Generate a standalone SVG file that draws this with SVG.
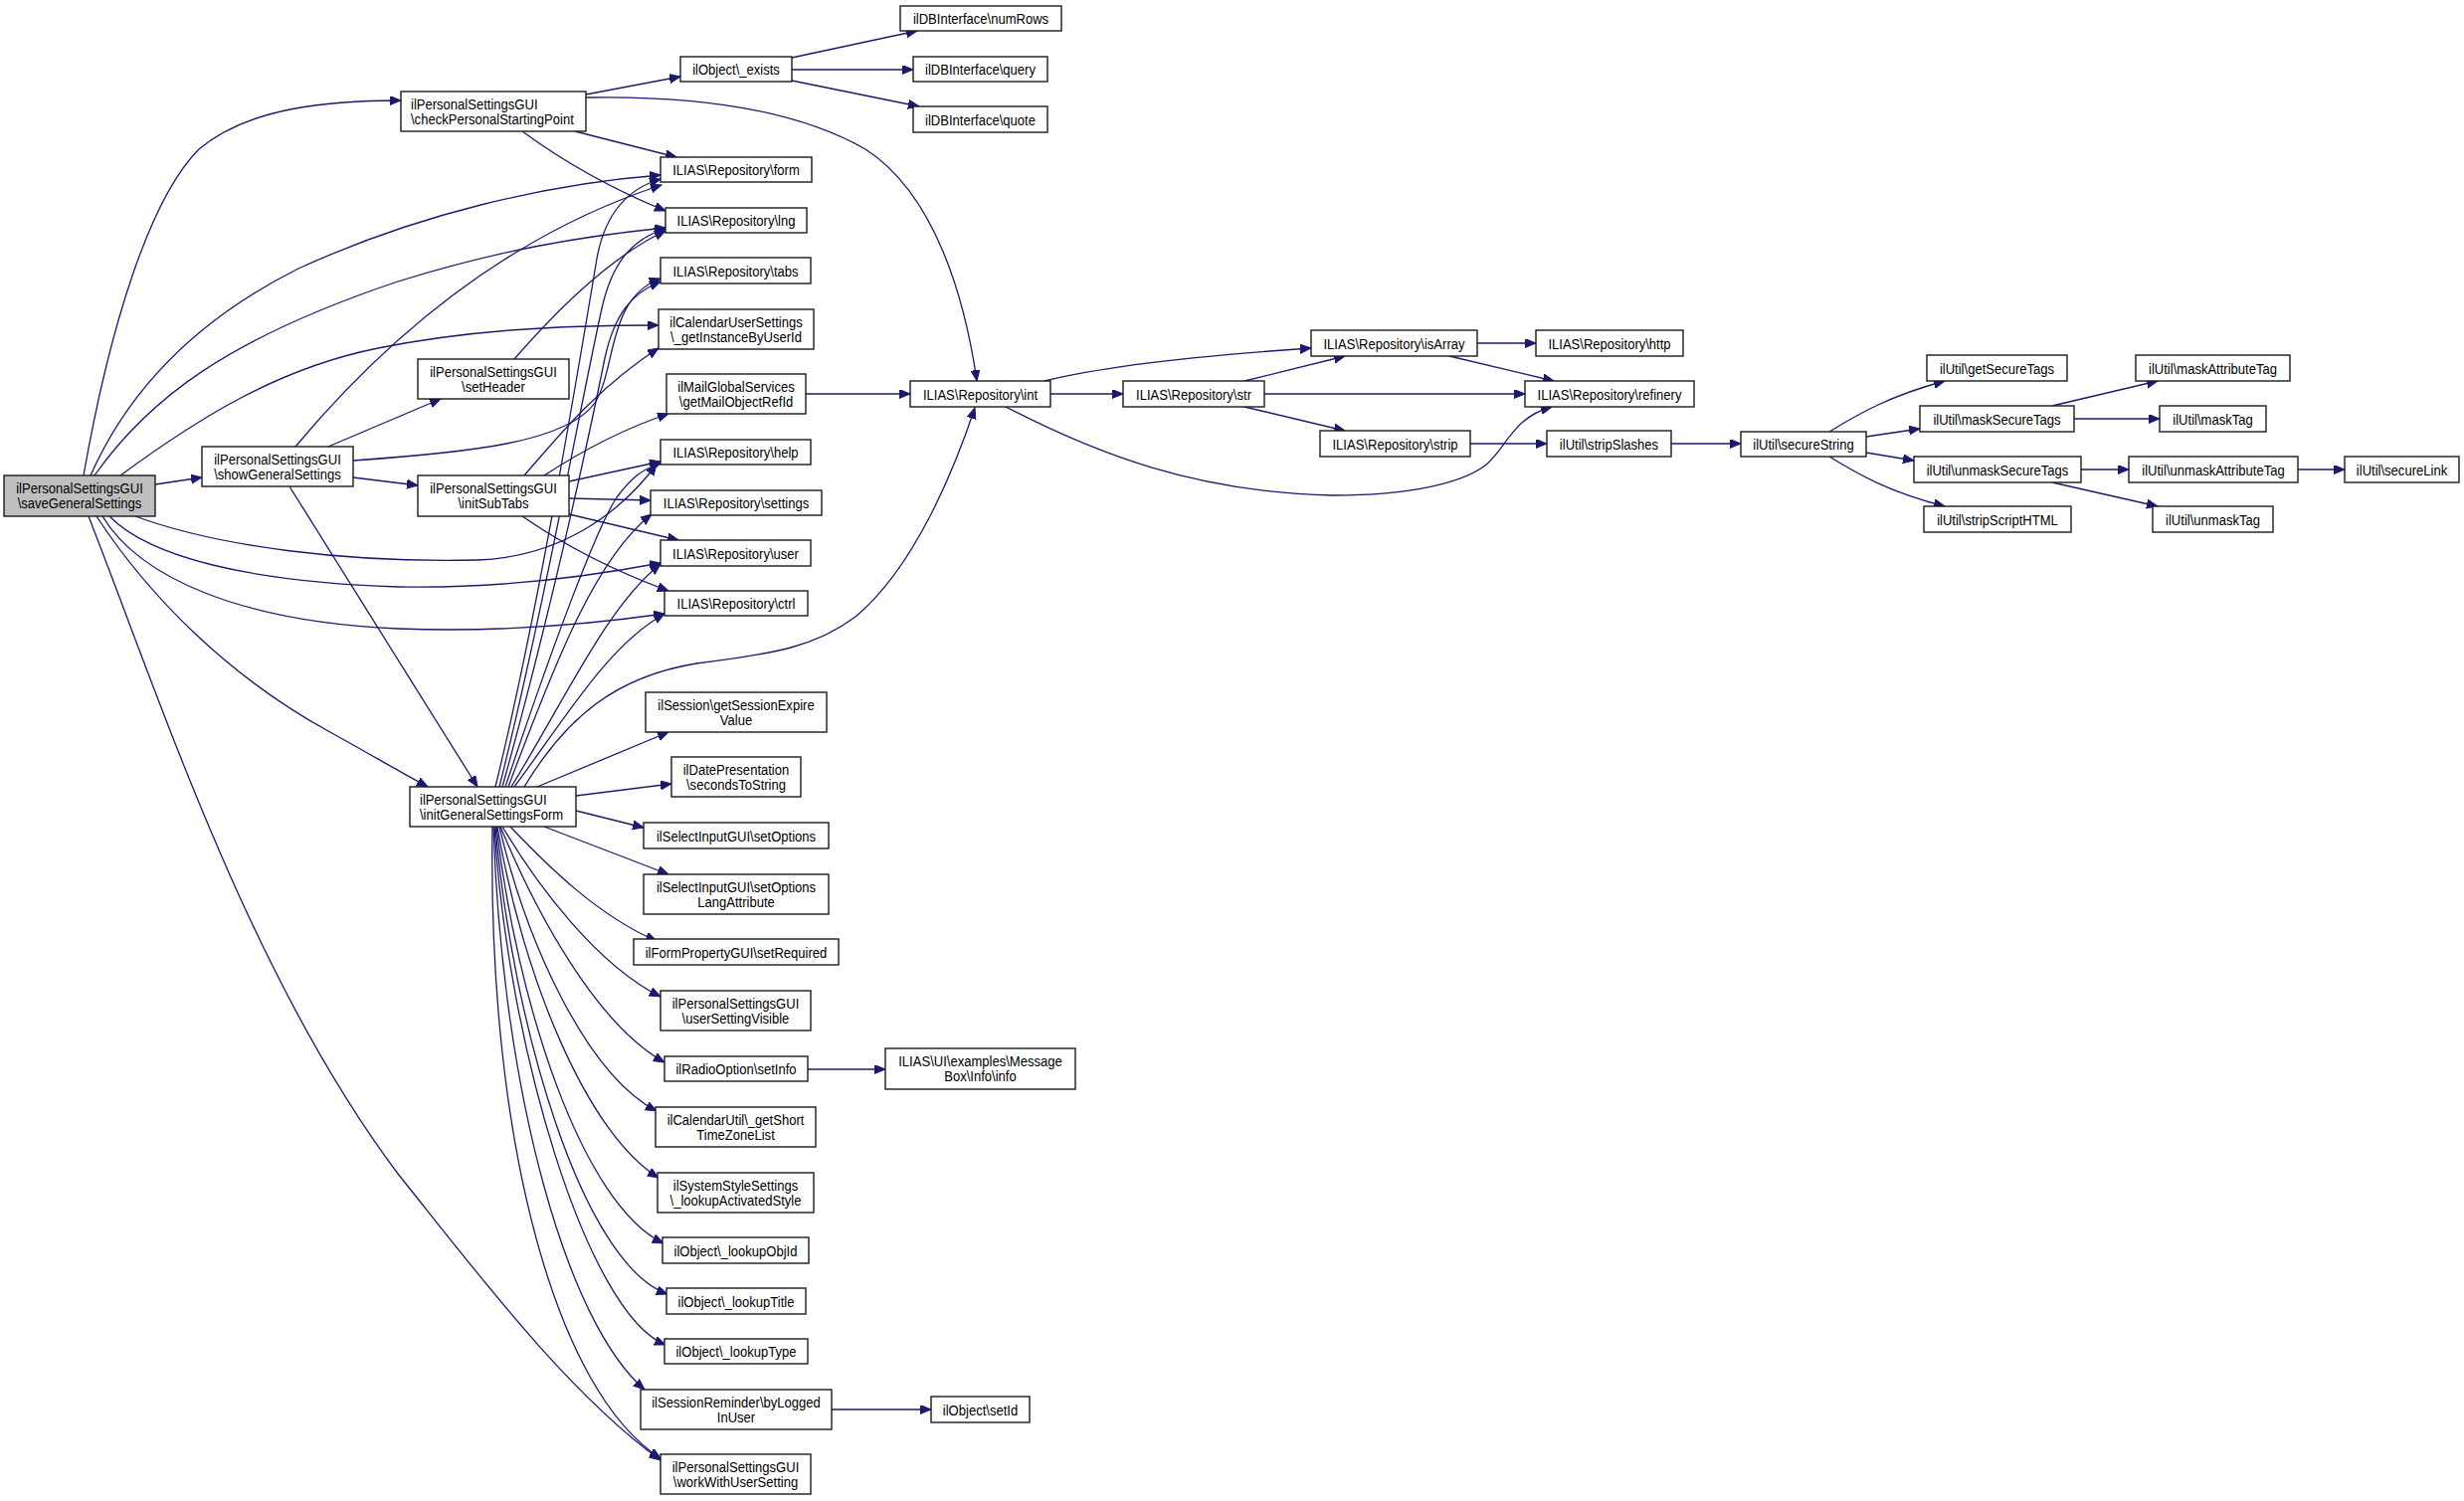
<svg xmlns="http://www.w3.org/2000/svg" width="2477" height="1509" viewBox="0 0 2477 1509">
<defs>
<marker id="ah" markerWidth="12" markerHeight="10" refX="11" refY="4.5" orient="auto" markerUnits="userSpaceOnUse"><path d="M0,0 L11,4.5 L0,9 z" fill="#191970" stroke="#191970" stroke-width="1"/></marker>
<style>
.n rect{fill:#ffffff;stroke:#1a1a1a;stroke-width:1.4}
.root rect{fill:#bfbfbf}
.n text{font-family:"Liberation Sans",Arial,Helvetica,sans-serif;font-size:15px;fill:#000}
.c text{text-anchor:middle}
#edges path{fill:none;stroke:#191970;stroke-width:1.3;marker-end:url(#ah)}
</style>
</defs>
<rect x="0" y="0" width="2477" height="1509" fill="#ffffff"/>
<g id="edges">
<path d="M84,478 C110,330 150,200 200,150 C250,108 330,101 403,101"/>
<path d="M91,478 C130,390 200,320 300,270 C420,215 550,185 664,176"/>
<path d="M95,478 C150,400 230,340 400,283 C500,252 580,238 669,229"/>
<path d="M121,478 C200,420 280,370 380,350 C470,332 560,327 662,327"/>
<path d="M156,487 L203,480"/>
<path d="M97,519 C150,600 230,680 330,735 C370,757 400,775 430,791"/>
<path d="M136,519 C220,550 350,566 480,563 C560,560 620,520 660,467"/>
<path d="M110,519 C150,560 250,585 400,590 C500,592 590,580 664,566"/>
<path d="M103,519 C140,580 240,625 400,632 C500,636 590,628 668,617"/>
<path d="M89,519 C160,700 250,980 400,1180 C480,1280 570,1400 664,1468"/>
<path d="M589,95 L684,77"/>
<path d="M589,98 C700,96 800,110 870,150 C940,195 970,300 982,383"/>
<path d="M578,132 L680,158"/>
<path d="M525,132 C570,165 620,192 669,212"/>
<path d="M796,58 L922,31"/>
<path d="M796,70 L918,70"/>
<path d="M796,81 L924,107"/>
<path d="M330,449 L443,401"/>
<path d="M355,480 L420,488"/>
<path d="M291,489 L480,791"/>
<path d="M297,449 C380,350 500,240 665,186"/>
<path d="M355,463 C470,455 570,445 598,405 C620,370 610,300 664,280"/>
<path d="M517,361 C570,300 620,255 669,232"/>
<path d="M527,478 C560,440 600,390 662,350"/>
<path d="M547,478 C590,450 630,430 672,416"/>
<path d="M572,484 L664,464"/>
<path d="M572,501 L654,503"/>
<path d="M572,517 L682,543"/>
<path d="M525,519 C570,550 620,575 672,594"/>
<path d="M498,791 C540,620 580,380 600,260 C608,215 630,190 664,180"/>
<path d="M502,791 C545,620 585,400 605,310 C615,265 635,240 669,230"/>
<path d="M505,791 C550,630 590,450 608,360 C618,315 635,295 664,283"/>
<path d="M508,791 C555,650 600,530 620,500 C635,480 645,472 664,466"/>
<path d="M511,791 C560,660 600,560 655,517"/>
<path d="M514,791 C570,700 610,610 664,567"/>
<path d="M517,791 C570,720 610,650 668,617"/>
<path d="M527,791 C570,720 620,680 700,667 C780,657 820,650 860,620 C920,570 960,470 980,410"/>
<path d="M540,791 L672,736"/>
<path d="M579,800 L675,788"/>
<path d="M579,815 L647,832"/>
<path d="M547,831 L672,879"/>
<path d="M513,831 C550,870 600,920 660,946"/>
<path d="M505,831 C540,890 600,970 664,1002"/>
<path d="M503,831 C540,920 600,1030 668,1068"/>
<path d="M502,831 C530,950 590,1080 660,1117"/>
<path d="M500,831 C525,980 590,1140 662,1184"/>
<path d="M499,831 C520,1010 585,1210 667,1250"/>
<path d="M498,831 C515,1030 585,1270 671,1301"/>
<path d="M497,831 C510,1050 590,1320 669,1352"/>
<path d="M496,831 C505,1100 570,1330 648,1397"/>
<path d="M495,831 C490,1150 560,1400 664,1466"/>
<path d="M810,396 L915,396"/>
<path d="M812,1075 L890,1075"/>
<path d="M836,1417 L936,1417"/>
<path d="M1056,396 L1129,396"/>
<path d="M1050,383 C1110,368 1200,358 1318,350"/>
<path d="M1011,409 C1100,455 1200,495 1340,498 C1420,498 1470,485 1493,468 C1515,450 1520,420 1560,409"/>
<path d="M1251,383 L1352,358"/>
<path d="M1271,396 L1533,396"/>
<path d="M1251,409 L1352,433"/>
<path d="M1485,345 L1544,345"/>
<path d="M1457,358 L1562,383"/>
<path d="M1478,446 L1555,446"/>
<path d="M1680,446 L1750,446"/>
<path d="M1839,434 C1870,415 1900,398 1955,383"/>
<path d="M1876,439 L1930,431"/>
<path d="M1876,455 L1924,463"/>
<path d="M1839,459 C1870,478 1900,495 1955,509"/>
<path d="M2063,408 L2169,383"/>
<path d="M2085,421 L2171,421"/>
<path d="M2092,472 L2140,472"/>
<path d="M2063,485 L2169,509"/>
<path d="M2310,472 L2357,472"/>
</g>
<g id="saveGeneralSettings" class="n c root"><rect x="4" y="478" width="152" height="41"/><text transform="translate(80,495.5) scale(.87,1)">ilPersonalSettingsGUI</text><text transform="translate(80,510.5) scale(.87,1)">\saveGeneralSettings</text></g>
<g id="checkPersonalStartingPoint" class="n"><rect x="403" y="92" width="186" height="40"/><text transform="translate(413,109.5) scale(.87,1)">ilPersonalSettingsGUI</text><text transform="translate(413,124.5) scale(.87,1)">\checkPersonalStartingPoint</text></g>
<g id="showGeneralSettings" class="n c"><rect x="203" y="449" width="152" height="40"/><text transform="translate(279,466.5) scale(.87,1)">ilPersonalSettingsGUI</text><text transform="translate(279,481.5) scale(.87,1)">\showGeneralSettings</text></g>
<g id="setHeader" class="n c"><rect x="420" y="361" width="152" height="40"/><text transform="translate(496,378.5) scale(.87,1)">ilPersonalSettingsGUI</text><text transform="translate(496,393.5) scale(.87,1)">\setHeader</text></g>
<g id="initSubTabs" class="n c"><rect x="420" y="478" width="152" height="41"/><text transform="translate(496,495.5) scale(.87,1)">ilPersonalSettingsGUI</text><text transform="translate(496,510.5) scale(.87,1)">\initSubTabs</text></g>
<g id="initGeneralSettingsForm" class="n"><rect x="412" y="791" width="167" height="40"/><text transform="translate(422,808.5) scale(.87,1)">ilPersonalSettingsGUI</text><text transform="translate(422,823.5) scale(.87,1)">\initGeneralSettingsForm</text></g>
<g id="exists" class="n c"><rect x="684" y="57" width="112" height="25"/><text transform="translate(740,75) scale(.87,1)">ilObject\_exists</text></g>
<g id="numRows" class="n c"><rect x="905" y="6" width="162" height="25"/><text transform="translate(986,24) scale(.87,1)">ilDBInterface\numRows</text></g>
<g id="query" class="n c"><rect x="918" y="57" width="135" height="25"/><text transform="translate(985.5,75) scale(.87,1)">ilDBInterface\query</text></g>
<g id="quote" class="n c"><rect x="918" y="107" width="135" height="26"/><text transform="translate(985.5,125.5) scale(.87,1)">ilDBInterface\quote</text></g>
<g id="form" class="n c"><rect x="664" y="158" width="152" height="25"/><text transform="translate(740,176) scale(.87,1)">ILIAS\Repository\form</text></g>
<g id="lng" class="n c"><rect x="669" y="209" width="142" height="25"/><text transform="translate(740,227) scale(.87,1)">ILIAS\Repository\lng</text></g>
<g id="tabs" class="n c"><rect x="664" y="259" width="151" height="26"/><text transform="translate(739.5,277.5) scale(.87,1)">ILIAS\Repository\tabs</text></g>
<g id="getInstanceByUserId" class="n c"><rect x="662" y="311" width="156" height="40"/><text transform="translate(740,328.5) scale(.87,1)">ilCalendarUserSettings</text><text transform="translate(740,343.5) scale(.87,1)">\_getInstanceByUserId</text></g>
<g id="getMailObjectRefId" class="n c"><rect x="670" y="376" width="140" height="40"/><text transform="translate(740,393.5) scale(.87,1)">ilMailGlobalServices</text><text transform="translate(740,408.5) scale(.87,1)">\getMailObjectRefId</text></g>
<g id="int" class="n c"><rect x="915" y="383" width="141" height="26"/><text transform="translate(985.5,401.5) scale(.87,1)">ILIAS\Repository\int</text></g>
<g id="help" class="n c"><rect x="664" y="442" width="151" height="25"/><text transform="translate(739.5,460) scale(.87,1)">ILIAS\Repository\help</text></g>
<g id="settings" class="n c"><rect x="654" y="493" width="172" height="25"/><text transform="translate(740,511) scale(.87,1)">ILIAS\Repository\settings</text></g>
<g id="user" class="n c"><rect x="664" y="543" width="151" height="26"/><text transform="translate(739.5,561.5) scale(.87,1)">ILIAS\Repository\user</text></g>
<g id="ctrl" class="n c"><rect x="668" y="594" width="144" height="25"/><text transform="translate(740,612) scale(.87,1)">ILIAS\Repository\ctrl</text></g>
<g id="getSessionExpireValue" class="n c"><rect x="649" y="696" width="182" height="40"/><text transform="translate(740,713.5) scale(.87,1)">ilSession\getSessionExpire</text><text transform="translate(740,728.5) scale(.87,1)">Value</text></g>
<g id="secondsToString" class="n c"><rect x="675" y="761" width="130" height="40"/><text transform="translate(740,778.5) scale(.87,1)">ilDatePresentation</text><text transform="translate(740,793.5) scale(.87,1)">\secondsToString</text></g>
<g id="setOptions" class="n c"><rect x="647" y="827" width="186" height="26"/><text transform="translate(740,845.5) scale(.87,1)">ilSelectInputGUI\setOptions</text></g>
<g id="setOptionsLangAttribute" class="n c"><rect x="647" y="879" width="186" height="40"/><text transform="translate(740,896.5) scale(.87,1)">ilSelectInputGUI\setOptions</text><text transform="translate(740,911.5) scale(.87,1)">LangAttribute</text></g>
<g id="setRequired" class="n c"><rect x="637" y="944" width="206" height="26"/><text transform="translate(740,962.5) scale(.87,1)">ilFormPropertyGUI\setRequired</text></g>
<g id="userSettingVisible" class="n c"><rect x="664" y="996" width="151" height="40"/><text transform="translate(739.5,1013.5) scale(.87,1)">ilPersonalSettingsGUI</text><text transform="translate(739.5,1028.5) scale(.87,1)">\userSettingVisible</text></g>
<g id="setInfo" class="n c"><rect x="668" y="1062" width="144" height="25"/><text transform="translate(740,1080) scale(.87,1)">ilRadioOption\setInfo</text></g>
<g id="messageBoxInfo" class="n c"><rect x="890" y="1054" width="191" height="41"/><text transform="translate(985.5,1071.5) scale(.87,1)">ILIAS\UI\examples\Message</text><text transform="translate(985.5,1086.5) scale(.87,1)">Box\Info\info</text></g>
<g id="getShortTimeZoneList" class="n c"><rect x="659" y="1113" width="161" height="40"/><text transform="translate(739.5,1130.5) scale(.87,1)">ilCalendarUtil\_getShort</text><text transform="translate(739.5,1145.5) scale(.87,1)">TimeZoneList</text></g>
<g id="lookupActivatedStyle" class="n c"><rect x="661" y="1179" width="157" height="40"/><text transform="translate(739.5,1196.5) scale(.87,1)">ilSystemStyleSettings</text><text transform="translate(739.5,1211.5) scale(.87,1)">\_lookupActivatedStyle</text></g>
<g id="lookupObjId" class="n c"><rect x="666" y="1244" width="147" height="26"/><text transform="translate(739.5,1262.5) scale(.87,1)">ilObject\_lookupObjId</text></g>
<g id="lookupTitle" class="n c"><rect x="670" y="1295" width="140" height="26"/><text transform="translate(740,1313.5) scale(.87,1)">ilObject\_lookupTitle</text></g>
<g id="lookupType" class="n c"><rect x="668" y="1346" width="144" height="25"/><text transform="translate(740,1364) scale(.87,1)">ilObject\_lookupType</text></g>
<g id="byLoggedInUser" class="n c"><rect x="644" y="1397" width="192" height="40"/><text transform="translate(740,1414.5) scale(.87,1)">ilSessionReminder\byLogged</text><text transform="translate(740,1429.5) scale(.87,1)">InUser</text></g>
<g id="setId" class="n c"><rect x="936" y="1404" width="99" height="26"/><text transform="translate(985.5,1422.5) scale(.87,1)">ilObject\setId</text></g>
<g id="workWithUserSetting" class="n c"><rect x="664" y="1462" width="151" height="40"/><text transform="translate(739.5,1479.5) scale(.87,1)">ilPersonalSettingsGUI</text><text transform="translate(739.5,1494.5) scale(.87,1)">\workWithUserSetting</text></g>
<g id="str" class="n c"><rect x="1129" y="383" width="142" height="26"/><text transform="translate(1200,401.5) scale(.87,1)">ILIAS\Repository\str</text></g>
<g id="isArray" class="n c"><rect x="1318" y="332" width="167" height="26"/><text transform="translate(1401.5,350.5) scale(.87,1)">ILIAS\Repository\isArray</text></g>
<g id="http" class="n c"><rect x="1544" y="332" width="148" height="26"/><text transform="translate(1618,350.5) scale(.87,1)">ILIAS\Repository\http</text></g>
<g id="refinery" class="n c"><rect x="1533" y="383" width="170" height="26"/><text transform="translate(1618,401.5) scale(.87,1)">ILIAS\Repository\refinery</text></g>
<g id="strip" class="n c"><rect x="1327" y="433" width="151" height="26"/><text transform="translate(1402.5,451.5) scale(.87,1)">ILIAS\Repository\strip</text></g>
<g id="stripSlashes" class="n c"><rect x="1555" y="433" width="125" height="26"/><text transform="translate(1617.5,451.5) scale(.87,1)">ilUtil\stripSlashes</text></g>
<g id="secureString" class="n c"><rect x="1750" y="434" width="126" height="25"/><text transform="translate(1813,452) scale(.87,1)">ilUtil\secureString</text></g>
<g id="getSecureTags" class="n c"><rect x="1937" y="357" width="141" height="26"/><text transform="translate(2007.5,375.5) scale(.87,1)">ilUtil\getSecureTags</text></g>
<g id="maskSecureTags" class="n c"><rect x="1930" y="408" width="155" height="26"/><text transform="translate(2007.5,426.5) scale(.87,1)">ilUtil\maskSecureTags</text></g>
<g id="unmaskSecureTags" class="n c"><rect x="1924" y="459" width="168" height="26"/><text transform="translate(2008,477.5) scale(.87,1)">ilUtil\unmaskSecureTags</text></g>
<g id="stripScriptHTML" class="n c"><rect x="1934" y="509" width="148" height="26"/><text transform="translate(2008,527.5) scale(.87,1)">ilUtil\stripScriptHTML</text></g>
<g id="maskAttributeTag" class="n c"><rect x="2147" y="357" width="155" height="26"/><text transform="translate(2224.5,375.5) scale(.87,1)">ilUtil\maskAttributeTag</text></g>
<g id="maskTag" class="n c"><rect x="2171" y="408" width="107" height="26"/><text transform="translate(2224.5,426.5) scale(.87,1)">ilUtil\maskTag</text></g>
<g id="unmaskAttributeTag" class="n c"><rect x="2140" y="459" width="170" height="26"/><text transform="translate(2225,477.5) scale(.87,1)">ilUtil\unmaskAttributeTag</text></g>
<g id="unmaskTag" class="n c"><rect x="2164" y="509" width="121" height="26"/><text transform="translate(2224.5,527.5) scale(.87,1)">ilUtil\unmaskTag</text></g>
<g id="secureLink" class="n c"><rect x="2357" y="459" width="115" height="26"/><text transform="translate(2414.5,477.5) scale(.87,1)">ilUtil\secureLink</text></g>
</svg>
